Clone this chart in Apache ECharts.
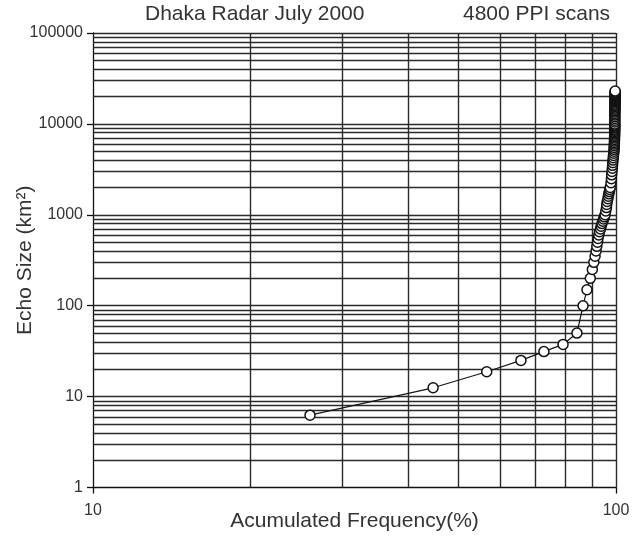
<!DOCTYPE html>
<html><head><meta charset="utf-8">
<script src="https://cdn.jsdelivr.net/npm/echarts@6/dist/echarts.min.js"></script>
<style>html,body{margin:0;padding:0;background:#fff}#c{width:633px;height:537px}</style>
</head><body><div id="c"></div>
<script>
// Echo size (km^2) for each plotted point
const sizeKm2 = [
  6.25, 12.5, 18.75, 25, 31.25, 37.5, 50, 100,
  150, 200, 250, 300, 350, 400, 450, 500, 550, 600, 650, 700, 750, 800, 850, 900, 950, 1000,
  1100, 1200, 1300, 1400, 1500, 1600, 1700, 1800, 1900, 2000,
  2250, 2500, 2750, 3000, 3250, 3500, 3750, 4000, 4250, 4500, 4750, 5000, 5250, 5500, 5750, 6000,
  6250, 6500, 6750, 7000, 7250, 7500, 7750, 8000, 8250, 8500, 8750, 9000, 9250, 9500, 9750, 10000,
  10500, 11000, 11500, 12000, 12500, 13000, 13500, 14000, 14500, 15000, 15500, 16000, 16500,
  17000, 17500, 18000, 18500, 19000, 19500, 20000, 20500, 21000, 21500, 22000, 22500, 23000
];
// Accumulated frequency (%) for each point
const accFreq = [
  26.0, 44.7, 56.6, 65.8, 72.8, 79.2, 84.2, 86.5,
  88.0, 89.3, 90.1, 90.7, 91.2, 91.6, 91.9, 92.2, 92.4, 92.7, 93.0, 93.4, 93.7, 94.0, 94.4, 94.7, 95.0, 95.3,
  95.6, 95.9, 96.0, 96.2, 96.5, 96.7, 96.9, 97.1, 97.3, 97.5,
  97.8, 98.0, 98.1, 98.25, 98.4, 98.5, 98.6, 98.7, 98.8, 98.9, 99.0, 99.1, 99.15, 99.2, 99.25, 99.3,
  99.3, 99.33, 99.35, 99.37, 99.38, 99.4, 99.4, 99.42, 99.43, 99.44, 99.45, 99.45, 99.46, 99.47, 99.47, 99.48,
  99.49, 99.5, 99.5, 99.51, 99.52, 99.52, 99.53, 99.54, 99.54, 99.55, 99.55, 99.56, 99.56,
  99.57, 99.57, 99.58, 99.58, 99.58, 99.59, 99.59, 99.6, 99.6, 99.6, 99.61, 99.61, 99.62
];
const xTickLabels = ['10', '100'];
const yTickLabels = ['1', '10', '100', '1000', '10000', '100000'];
const xGridValues = [20, 30, 40, 50, 60, 70, 80, 90, 100];
const yGridMultipliers = [1, 2, 3, 4, 5, 6, 7, 8, 9];
const yDecades = [1, 10, 100, 1000, 10000];

const yGridValues = [];
yDecades.forEach(d => yGridMultipliers.forEach(m => { if (m * d > 1) yGridValues.push(m * d); }));
yGridValues.push(100000);

const points = accFreq.map((x, i) => [x, sizeKm2[i]]);
const FONT = "'Liberation Sans', Arial, sans-serif";
const TXT = '#333';
const GRIDC = '#2a2a2a';

const gridLines = [];
yGridValues.forEach(v => gridLines.push({ yAxis: v }));
xGridValues.forEach(v => gridLines.push({ xAxis: v }));

const chart = echarts.init(document.getElementById('c'), null, { renderer: 'canvas' });
chart.setOption({
  animation: false,
  backgroundColor: '#fff',
  title: [
    { text: 'Dhaka Radar July 2000', left: 145, top: 4, padding: 0,
      textStyle: { fontFamily: FONT, fontSize: 21, fontWeight: 'normal', color: TXT } },
    { text: '4800 PPI scans', left: 463, top: 4, padding: 0,
      textStyle: { fontFamily: FONT, fontSize: 21, fontWeight: 'normal', color: TXT } }
  ],
  grid: { left: 93, right: 17, top: 33, bottom: 49.5, containLabel: false, outerBoundsMode: 'none' },
  xAxis: {
    type: 'log', logBase: 10, min: 10, max: 100,
    name: 'Acumulated Frequency(%)', nameLocation: 'middle', nameGap: 23, nameMoveOverlap: false,
    nameTextStyle: { fontFamily: FONT, fontSize: 21, color: TXT },
    axisLine: { show: true, lineStyle: { color: '#111', width: 1.3 } },
    axisTick: { show: true, length: 6, inside: false, lineStyle: { color: '#111', width: 1.3 } },
    axisLabel: { margin: 15, fontFamily: FONT, fontSize: 16, color: TXT,
      formatter: v => xTickLabels[Math.round(Math.log10(v)) - 1] },
    splitLine: { show: false }, minorTick: { show: false }
  },
  yAxis: {
    type: 'log', logBase: 10, min: 1, max: 100000,
    name: 'Echo Size (km²)', nameLocation: 'middle', nameGap: 57, nameRotate: 90, nameMoveOverlap: false,
    nameTextStyle: { fontFamily: FONT, fontSize: 21, color: TXT },
    axisLine: { show: true, lineStyle: { color: '#111', width: 1.3 } },
    axisTick: { show: true, length: 6, inside: false, lineStyle: { color: '#111', width: 1.3 } },
    axisLabel: { margin: 10, fontFamily: FONT, fontSize: 16, color: TXT,
      formatter: v => yTickLabels[Math.round(Math.log10(v))] },
    splitLine: { show: false }, minorTick: { show: false }
  },
  series: [{
    type: 'line',
    data: points,
    z: 3,
    showAllSymbol: true,
    symbol: 'circle',
    symbolSize: 10,
    clip: false,
    itemStyle: { color: '#fff', borderColor: '#111', borderWidth: 1.5 },
    lineStyle: { color: '#151515', width: 1.2 },
    emphasis: { disabled: true },
    markLine: {
      z: 1,
      silent: true,
      symbol: ['none', 'none'],
      label: { show: false },
      emphasis: { disabled: true },
      lineStyle: { type: 'solid', color: GRIDC, width: 1.4 },
      data: gridLines
    }
  }]
});
</script>
</body></html>
